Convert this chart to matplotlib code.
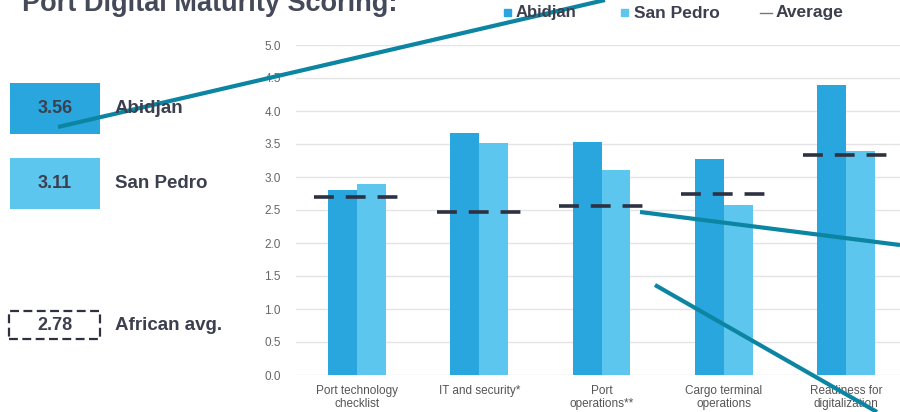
import numpy as np
import matplotlib
matplotlib.use("Agg")
import matplotlib.pyplot as plt
from matplotlib.patches import Rectangle
from matplotlib.lines import Line2D

plt.rcParams['font.family'] = ['Liberation Sans', 'DejaVu Sans']

# data
categories = ["Port technology\nchecklist", "IT and security*", "Port\noperations**",
              "Cargo terminal\noperations", "Readiness for\ndigitalization"]
abidjan = [2.81, 3.67, 3.53, 3.28, 4.39]
san_pedro = [2.90, 3.52, 3.10, 2.57, 3.40]
average = [2.69, 2.47, 2.56, 2.75, 3.34]
summary_labels = ["Abidjan", "San Pedro", "African avg."]
summary_values = ["3.56", "3.11", "2.78"]

C_ABI = '#29a6de'
C_SP = '#5cc6ef'
C_AVG = '#2e3142'
C_TXT = '#3b3f4e'
C_TEAL = '#0b85a2'

W, H = 900, 412


def px(x, y):
    # pixel position (from top-left) -> figure fraction
    return x / W, 1 - y / H


fig = plt.figure(figsize=(9, 4.12), dpi=100)
ax = fig.add_axes([296 / W, 1 - 375 / H, 611 / W, 330 / H])

x = np.arange(len(categories))
w = 0.237
ax.bar(x - w / 2, abidjan, w, color=C_ABI, zorder=2)
ax.bar(x + w / 2, san_pedro, w, color=C_SP, zorder=2)
ax.hlines(average, x - 0.35, x + 0.35, colors=C_AVG, lw=2.6,
          linestyles=(0, (5.5, 3.3)), zorder=3)

ax.set_xlim(-0.5, len(categories) - 0.5)
ax.set_ylim(0, 5)
ax.set_yticks(np.arange(0, 5.01, 0.5))
ax.set_yticklabels(["%.1f" % v for v in np.arange(0, 5.01, 0.5)])
ax.grid(axis='y', color='#e4e4e4', lw=1)
ax.set_axisbelow(True)
for s in ax.spines.values():
    s.set_visible(False)
ax.tick_params(length=0)
ax.tick_params(axis='y', labelsize=8.5, labelcolor='#666666', pad=11)
ax.set_xticks(x)
ax.set_xticklabels(categories, fontsize=8.5, color='#555555', linespacing=1.1)
ax.tick_params(axis='x', pad=7)

# title (cut at the top)
fig.text(*px(22, 11), "Port Digital Maturity Scoring:", fontsize=19.5,
         fontweight='bold', color='#454a5a', va='baseline', ha='left')

# legend on top
fig.patches.append(Rectangle(px(504, 16), 7 / W, 7 / H, color=C_ABI,
                             transform=fig.transFigure))
fig.text(*px(516, 13), "Abidjan", fontsize=12, fontweight='bold',
         color=C_TXT, va='center')
fig.patches.append(Rectangle(px(621, 16), 7 / W, 7 / H, color=C_SP,
                             transform=fig.transFigure))
fig.text(*px(634, 13), "San Pedro", fontsize=12.5, fontweight='bold',
         color=C_TXT, va='center')
fig.lines.append(Line2D([760 / W, 772 / W], [1 - 13 / H] * 2, color='#777777',
                        lw=1, transform=fig.transFigure))
fig.text(*px(776, 13), "Average", fontsize=12.5, fontweight='bold',
         color=C_TXT, va='center')

# summary boxes on the left
boxes = [(83, 134, C_ABI, None), (158, 209, C_SP, None), (311, 339, 'white', C_AVG)]
for (y0, y1, fc, ec), lab, val in zip(boxes, summary_labels, summary_values):
    if ec is None:
        r = Rectangle(px(10, y1), 90 / W, (y1 - y0) / H, facecolor=fc,
                      edgecolor='none', transform=fig.transFigure)
    else:
        r = Rectangle(px(9, y1), 91 / W, (y1 - y0) / H, facecolor=fc,
                      edgecolor=ec, lw=1.6, ls=(0, (4, 2)),
                      transform=fig.transFigure)
    fig.patches.append(r)
    yc = (y0 + y1) / 2
    fig.text(*px(55, yc), val, fontsize=13, fontweight='bold', color=C_TXT,
             ha='center', va='center')
    fig.text(*px(115, yc), lab, fontsize=13.5, fontweight='bold', color=C_TXT,
             ha='left', va='center')

# teal annotation strokes over the screenshot
for (x0, y0), (x1, y1) in [((58, 127), (605, 0)),
                           ((640, 212), (900, 245)),
                           ((655, 285), (877, 412))]:
    a = px(x0, y0)
    b = px(x1, y1)
    fig.lines.append(Line2D([a[0], b[0]], [a[1], b[1]], color=C_TEAL, lw=3,
                            solid_capstyle='butt', transform=fig.transFigure))

fig.savefig("out.png", dpi=100)
